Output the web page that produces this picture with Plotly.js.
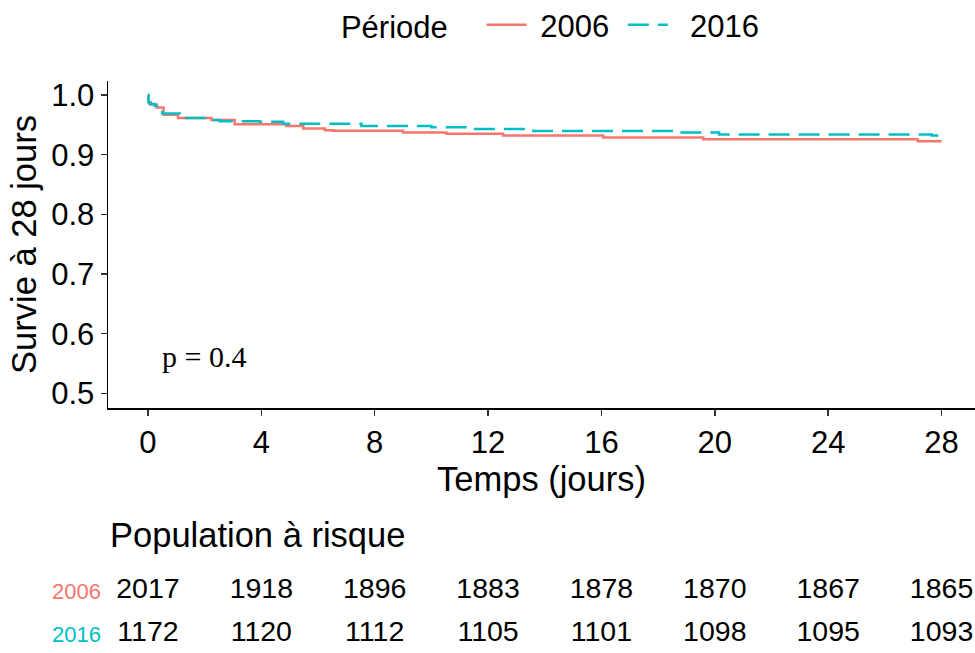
<!DOCTYPE html>
<html>
<head>
<meta charset="utf-8">
<script src="https://cdn.plot.ly/plotly-3.0.1.min.js"></script>
<style>html,body{margin:0;padding:0;background:#fff;}</style>
</head>
<body>
<div id="chart" style="width:975px;height:653px;"></div>
<script>
// Kaplan-Meier step data
const t2006 = [0, 0.02, 0.1, 0.3, 0.55, 1.06, 2.24, 3.06, 4.88, 5.48, 6.24, 6.54, 9.0, 10.53, 12.53, 16.06, 19.59, 27.16, 28];
const s2006 = [1.0, 0.988, 0.984, 0.979, 0.967, 0.9615, 0.958, 0.951, 0.948, 0.944, 0.941, 0.940, 0.937, 0.935, 0.932, 0.929, 0.926, 0.9224, 0.9224];
const t2016 = [0, 0.02, 0.06, 0.24, 0.41, 0.5, 1.12, 2.0, 2.53, 3.94, 4.77, 7.53, 10.0, 11.4, 13.6, 18.6, 20.15, 27.65, 28];
const s2016 = [1.0, 0.988, 0.985, 0.982, 0.978, 0.969, 0.9615, 0.958, 0.956, 0.955, 0.952, 0.948, 0.946, 0.943, 0.9397, 0.937, 0.934, 0.932, 0.932];

// Risk table
const riskTimes = [0, 4, 8, 12, 16, 20, 24, 28];
const risk2006 = [2017, 1918, 1896, 1883, 1878, 1870, 1867, 1865];
const risk2016 = [1172, 1120, 1112, 1105, 1101, 1098, 1095, 1093];
const groups = ['2006', '2016'];
const xTicks = [0, 4, 8, 12, 16, 20, 24, 28];
const yTicks = [0.5, 0.6, 0.7, 0.8, 0.9, 1.0];

const RED = '#F8766D', TEAL = '#00BFC4';
const FONT = 'Liberation Sans, Arial, sans-serif';
const NB = '\u00A0';

const W = 975, H = 653;
const plotTop = 80.7, plotBottom = 408.3;

const traces = [
  {x: t2006, y: s2006, type: 'scatter', mode: 'lines', name: NB + groups[0] + NB,
   line: {shape: 'hv', color: RED, width: 2.5}, xaxis: 'x', yaxis: 'y'},
  {x: t2016, y: s2016, type: 'scatter', mode: 'lines', name: NB + NB + groups[1],
   line: {shape: 'hv', color: TEAL, width: 2.5, dash: '21px,9px'}, xaxis: 'x', yaxis: 'y'},
  {x: riskTimes, y: riskTimes.map(() => groups[0]), text: risk2006.map(String), type: 'scatter', mode: 'text',
   textfont: {family: FONT, size: 28.5, color: '#000'}, showlegend: false, hoverinfo: 'skip', xaxis: 'x2', yaxis: 'y2', cliponaxis: false},
  {x: riskTimes, y: riskTimes.map(() => groups[1]), text: risk2016.map(String), type: 'scatter', mode: 'text',
   textfont: {family: FONT, size: 28.5, color: '#000'}, showlegend: false, hoverinfo: 'skip', xaxis: 'x2', yaxis: 'y2', cliponaxis: false}
];

const xr = [-1.41, 29.18];
const layout = {
  width: W, height: H,
  margin: {l: 108, r: 0, t: 0, b: 0, autoexpand: false},
  paper_bgcolor: '#fff', plot_bgcolor: '#fff',
  font: {family: FONT, color: '#000'},
  showlegend: true,
  legend: {
    orientation: 'h', x: 0.512, xanchor: 'center', y: 1 - 25 / H, yanchor: 'middle',
    title: {text: 'Période' + NB + NB + NB, side: 'left', font: {family: FONT, size: 31, color: '#000'}},
    font: {family: FONT, size: 31, color: '#000'},
    itemwidth: 40, tracegroupgap: 0
  },
  xaxis: {
    domain: [0, 1], range: xr, tickvals: xTicks, ticktext: xTicks.map(String),
    showline: true, linecolor: '#000', linewidth: 1.5, ticks: 'outside', ticklen: 6, tickwidth: 1.5, tickcolor: '#333',
    showgrid: false, zeroline: false, tickfont: {family: FONT, size: 31, color: '#000'},
    title: {text: 'Temps (jours)', font: {family: FONT, size: 34.5, color: '#000'}, standoff: 4},
    anchor: 'y'
  },
  yaxis: {
    domain: [1 - plotBottom / H, 1 - plotTop / H], range: [0.475, 1.024], tickvals: yTicks, ticktext: yTicks.map(v => v.toFixed(1)),
    showline: true, linecolor: '#000', linewidth: 1.5, ticks: 'outside', ticklen: 6, tickwidth: 1.5, tickcolor: '#333',
    showgrid: false, zeroline: false, tickfont: {family: FONT, size: 31, color: '#000'},
    title: {text: 'Survie à 28 jours', font: {family: FONT, size: 34.5, color: '#000'}, standoff: 4},
    anchor: 'x'
  },
  xaxis2: {domain: [0, 1], range: xr, visible: false, anchor: 'y2'},
  yaxis2: {
    domain: [0, 0.2], range: [-0.442, 2.595], type: 'category', categoryarray: ['2016', '2006'],
    tickvals: groups, ticktext: [`<span style="color:${RED}">2006</span>`, `<span style="color:${TEAL}">2016</span>`],
    tickfont: {family: FONT, size: 22}, showline: false, showgrid: false, zeroline: false, ticks: '',
    ticklabelstandoff: 6, anchor: 'x2'
  },
  annotations: [
    {text: 'p = 0.4', x: 0.41, y: 0.561, xref: 'x', yref: 'y', xanchor: 'left', yanchor: 'middle', showarrow: false,
     font: {family: 'Liberation Serif, Times New Roman, serif', size: 30, color: '#000'}},
    {text: 'Population à risque', x: 0, y: 1 - 535 / H, xref: 'paper', yref: 'paper', xanchor: 'left', yanchor: 'middle', showarrow: false,
     font: {family: FONT, size: 34.5, color: '#000'}}
  ]
};

Plotly.newPlot('chart', traces, layout, {displayModeBar: false, staticPlot: true});
</script>
</body>
</html>
